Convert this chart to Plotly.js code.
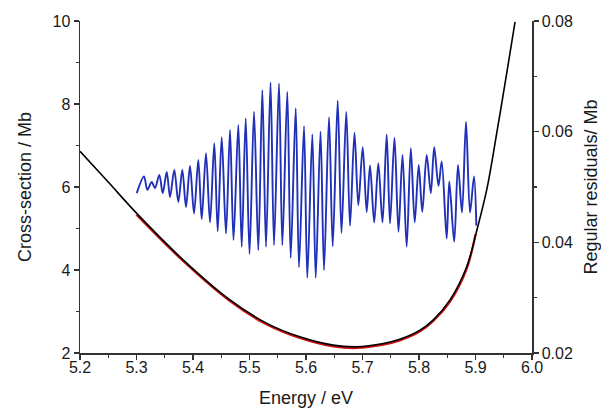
<!DOCTYPE html>
<html>
<head>
<meta charset="utf-8">
<script src="https://cdn.plot.ly/plotly-3.0.1.min.js"></script>
<style>html,body{margin:0;padding:0;background:#fff;}#chart{width:601px;height:408px;}</style>
</head>
<body>
<div id="chart"></div>
<script>
// Cross-section (left axis) – measured curve (black)
const energyBlack = [5.2, 5.25, 5.3, 5.383, 5.4655, 5.53, 5.589, 5.648, 5.69, 5.737, 5.766, 5.8018, 5.8253, 5.8549, 5.8844, 5.9032, 5.9198, 5.9375, 5.9552, 5.97];
const sigmaBlack  = [6.86, 6.12, 5.37, 4.24, 3.28, 2.72, 2.39, 2.19, 2.15, 2.23, 2.33, 2.55, 2.80, 3.28, 4.08, 5.00, 5.93, 7.29, 8.74, 9.98];

// Cross-section fit (red)
const energyRed = [5.3, 5.383, 5.4655, 5.53, 5.589, 5.648, 5.69, 5.737, 5.766, 5.8018, 5.8253, 5.8549, 5.8844, 5.9];
const sigmaRed  = [5.33, 4.21, 3.25, 2.69, 2.36, 2.16, 2.12, 2.20, 2.30, 2.52, 2.77, 3.24, 4.03, 4.86];

// Regular residuals (right axis, blue)
const energyResid = [5.3004, 5.3133, 5.3191, 5.3269, 5.3327, 5.3404, 5.3464, 5.3535, 5.3593, 5.3669,
  5.3740, 5.3811, 5.3876, 5.3947, 5.4018, 5.4094, 5.4154, 5.4230, 5.4301, 5.4377,
  5.4437, 5.4508, 5.4584, 5.4655, 5.4717, 5.4802, 5.4862, 5.4933, 5.5000, 5.5080,
  5.5156, 5.5227, 5.5292, 5.5372, 5.5434, 5.5522, 5.5581, 5.5669, 5.5729, 5.5818,
  5.5876, 5.5965, 5.6023, 5.6112, 5.6172, 5.6257, 5.6319, 5.6407, 5.6473, 5.6561,
  5.6628, 5.6713, 5.6779, 5.6858, 5.6926, 5.7004, 5.7074, 5.7133, 5.7207, 5.7280,
  5.7354, 5.7428, 5.7487, 5.7566, 5.7637, 5.7708, 5.7782, 5.7855, 5.7924, 5.7995,
  5.8058, 5.8136, 5.8209, 5.8269, 5.8345, 5.8402, 5.8490, 5.8536, 5.8623, 5.8690,
  5.8761, 5.8832, 5.8903, 5.8974, 5.9015];
const residual = [0.0489, 0.0519, 0.0495, 0.0509, 0.0498, 0.0522, 0.0489, 0.0527, 0.0482, 0.0531,
  0.0473, 0.0531, 0.0464, 0.0538, 0.0452, 0.0549, 0.0442, 0.0561, 0.0436, 0.0579,
  0.0420, 0.0590, 0.0416, 0.0603, 0.0404, 0.0612, 0.0392, 0.0624, 0.0379, 0.0636,
  0.0386, 0.0675, 0.0392, 0.0689, 0.0395, 0.0687, 0.0395, 0.0672, 0.0372, 0.0642,
  0.0355, 0.0610, 0.0336, 0.0595, 0.0336, 0.0600, 0.0350, 0.0626, 0.0393, 0.0656,
  0.0417, 0.0636, 0.0430, 0.0598, 0.0467, 0.0572, 0.0455, 0.0539, 0.0436, 0.0543,
  0.0436, 0.0595, 0.0434, 0.0589, 0.0419, 0.0558, 0.0392, 0.0570, 0.0436, 0.0540,
  0.0455, 0.0558, 0.0489, 0.0572, 0.0502, 0.0546, 0.0407, 0.0510, 0.0401, 0.0540,
  0.0454, 0.0618, 0.0454, 0.0519, 0.0430];

// Tick values / labels
const xTicks = [5.2, 5.3, 5.4, 5.5, 5.6, 5.7, 5.8, 5.9, 6.0];
const xTickText = ['5.2', '5.3', '5.4', '5.5', '5.6', '5.7', '5.8', '5.9', '6.0'];
const yTicks = [2, 4, 6, 8, 10];
const y2Ticks = [0.02, 0.04, 0.06, 0.08];
const y2TickText = ['0.02', '0.04', '0.06', '0.08'];

const FONT = 'Liberation Sans, Arial, sans-serif';
const AXC = '#333333';
const TXT = '#1a1a1a';

const traces = [
  {x: energyRed, y: sigmaRed, type: 'scatter', mode: 'lines',
   line: {color: '#cc1111', width: 2.2, shape: 'spline', smoothing: 1}, hoverinfo: 'skip'},
  {x: energyBlack, y: sigmaBlack, type: 'scatter', mode: 'lines',
   line: {color: '#000000', width: 1.6, shape: 'spline', smoothing: 1}, hoverinfo: 'skip'},
  {x: energyResid, y: residual, type: 'scatter', mode: 'lines', yaxis: 'y2',
   line: {color: '#2030b8', width: 1.9, shape: 'spline', smoothing: 0.9}, hoverinfo: 'skip'}
];

const axisCommon = {
  showline: true, linecolor: AXC, linewidth: 1.5, mirror: false,
  ticks: 'outside', ticklen: 5, tickwidth: 1.5, tickcolor: AXC,
  showgrid: false, zeroline: false,
  tickfont: {family: FONT, size: 16, color: TXT}
};

const layout = {
  width: 601, height: 408,
  margin: {l: 80, r: 69, t: 21, b: 55, pad: 0},
  paper_bgcolor: '#fff', plot_bgcolor: '#fff',
  showlegend: false,
  xaxis: Object.assign({}, axisCommon, {
    range: [5.2, 6.0], tickvals: xTicks, ticktext: xTickText,
    ticklabelstandoff: -6,
    minor: {dtick: 0.05, ticks: 'outside', ticklen: 3, tickwidth: 1.2, tickcolor: AXC, showgrid: false},
    title: {text: 'Energy / eV', font: {family: FONT, size: 18, color: TXT}, standoff: 29}
  }),
  yaxis: Object.assign({}, axisCommon, {
    range: [2, 10], tickvals: yTicks,
    minor: {dtick: 1, ticks: 'outside', ticklen: 3, tickwidth: 1.2, tickcolor: AXC, showgrid: false},
    title: {text: 'Cross-section / Mb', font: {family: FONT, size: 18, color: TXT}, standoff: 16}
  }),
  yaxis2: Object.assign({}, axisCommon, {
    overlaying: 'y', side: 'right', anchor: 'x',
    range: [0.02, 0.08], tickvals: y2Ticks, ticktext: y2TickText,
    minor: {dtick: 0.01, ticks: 'outside', ticklen: 3, tickwidth: 1.2, tickcolor: AXC, showgrid: false},
    title: {text: 'Regular residuals/ Mb', font: {family: FONT, size: 18, color: TXT}, standoff: 12}
  })
};

Plotly.newPlot('chart', traces, layout, {staticPlot: true, displayModeBar: false});
</script>
</body>
</html>
